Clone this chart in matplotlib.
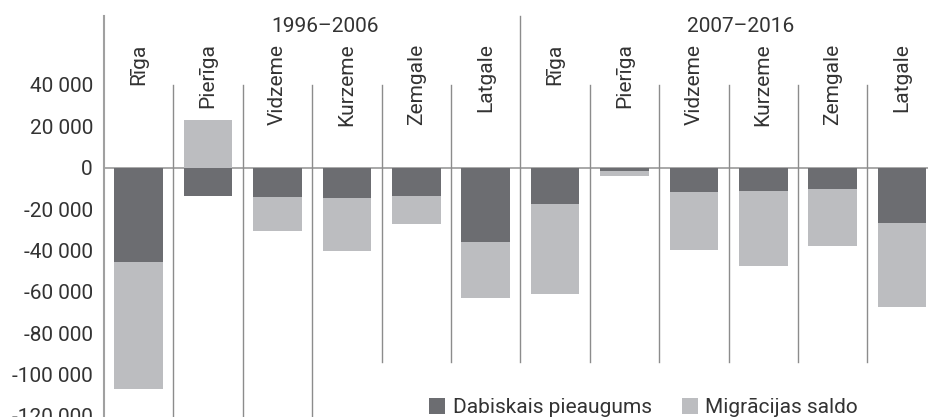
import matplotlib
import matplotlib.pyplot as plt
import numpy as np

regions = ['Rīga', 'Pierīga', 'Vidzeme', 'Kurzeme', 'Zemgale', 'Latgale']
periods = ['1996–2006', '2007–2016']

# natural increase and net migration per region, people
natural_1996 = [-45500, -13700, -14000, -14700, -13700, -35900]
migration_1996 = [-61600, 23100, -16600, -25500, -13700, -27300]
natural_2007 = [-17600, -1700, -11800, -11300, -10300, -26900]
migration_2007 = [-43500, -2200, -28000, -36300, -27700, -40300]

y_ticks = [40000, 20000, 0, -20000, -40000, -60000, -80000, -100000, -120000]

DARK = '#6c6d71'
LIGHT = '#bcbdc0'
LINE = '#8c8c8c'
TEXT = '#333333'

plt.rcParams['font.family'] = ['Roboto', 'DejaVu Sans']
plt.rcParams['font.size'] = 15

natural = np.array(natural_1996 + natural_2007)
migration = np.array(migration_1996 + migration_2007)
labels = regions + regions
x = np.arange(len(labels))

# migration stacks on top of natural change when both go the same way
mig_bottom = np.where(np.sign(migration) == np.sign(natural), natural, 0)

fig = plt.figure(figsize=(9.29, 4.17), dpi=100)
ax = fig.add_axes([104 / 929, 0, 832.7 / 929, 1])

ax.axhline(0, color='#999999', linewidth=1.2, zorder=1)
ax.bar(x, natural, width=0.7, color=DARK, zorder=2, label='Dabiskais pieaugums')
ax.bar(x, migration, bottom=mig_bottom, width=0.7, color=LIGHT, zorder=2,
       label='Migrācijas saldo')

ax.set_xlim(-0.5, len(labels) - 0.5)
ax.set_ylim(-120600, 81100)

# separators between regions; the one between periods reaches the headers
for i in range(len(labels) - 1):
  xs = i + 0.5
  if i == len(regions) - 1:
    ax.plot([xs, xs], [-94000, 73400], color=LINE, linewidth=1, zorder=1)
  elif i < 3:
    ax.plot([xs, xs], [-121000, 40000], color=LINE, linewidth=1, zorder=1)
  else:
    ax.plot([xs, xs], [-94000, 40000], color=LINE, linewidth=1, zorder=1)
ax.plot([-0.5, -0.5], [-121000, 73400], color='#a0a0a0', linewidth=1.5,
        zorder=1, clip_on=False)

for xi, name in zip(x, labels):
  ax.text(xi, 60000, name, rotation=90, ha='center', va='top', color=TEXT)

for p, period in enumerate(periods):
  center = p * len(regions) + (len(regions) - 1) / 2 + 0.18
  ax.text(center, 65500, period, ha='center', va='baseline', color=TEXT)

ax.set_xticks([])
ax.set_yticks(y_ticks)
ax.set_yticklabels([f'{v:,}'.replace(',', ' ') for v in y_ticks], color=TEXT)
ax.tick_params(axis='y', length=0, pad=8)
for s in ax.spines.values():
  s.set_visible(False)

ax.legend(loc='lower left', bbox_to_anchor=(429 / 929, 0.0),
          bbox_transform=fig.transFigure, ncol=2, frameon=False,
          borderpad=0, borderaxespad=0, handlelength=0.77, handleheight=0.77,
          handletextpad=0.36, columnspacing=1.45, labelcolor=TEXT)

fig.savefig('out.png', dpi=100)
